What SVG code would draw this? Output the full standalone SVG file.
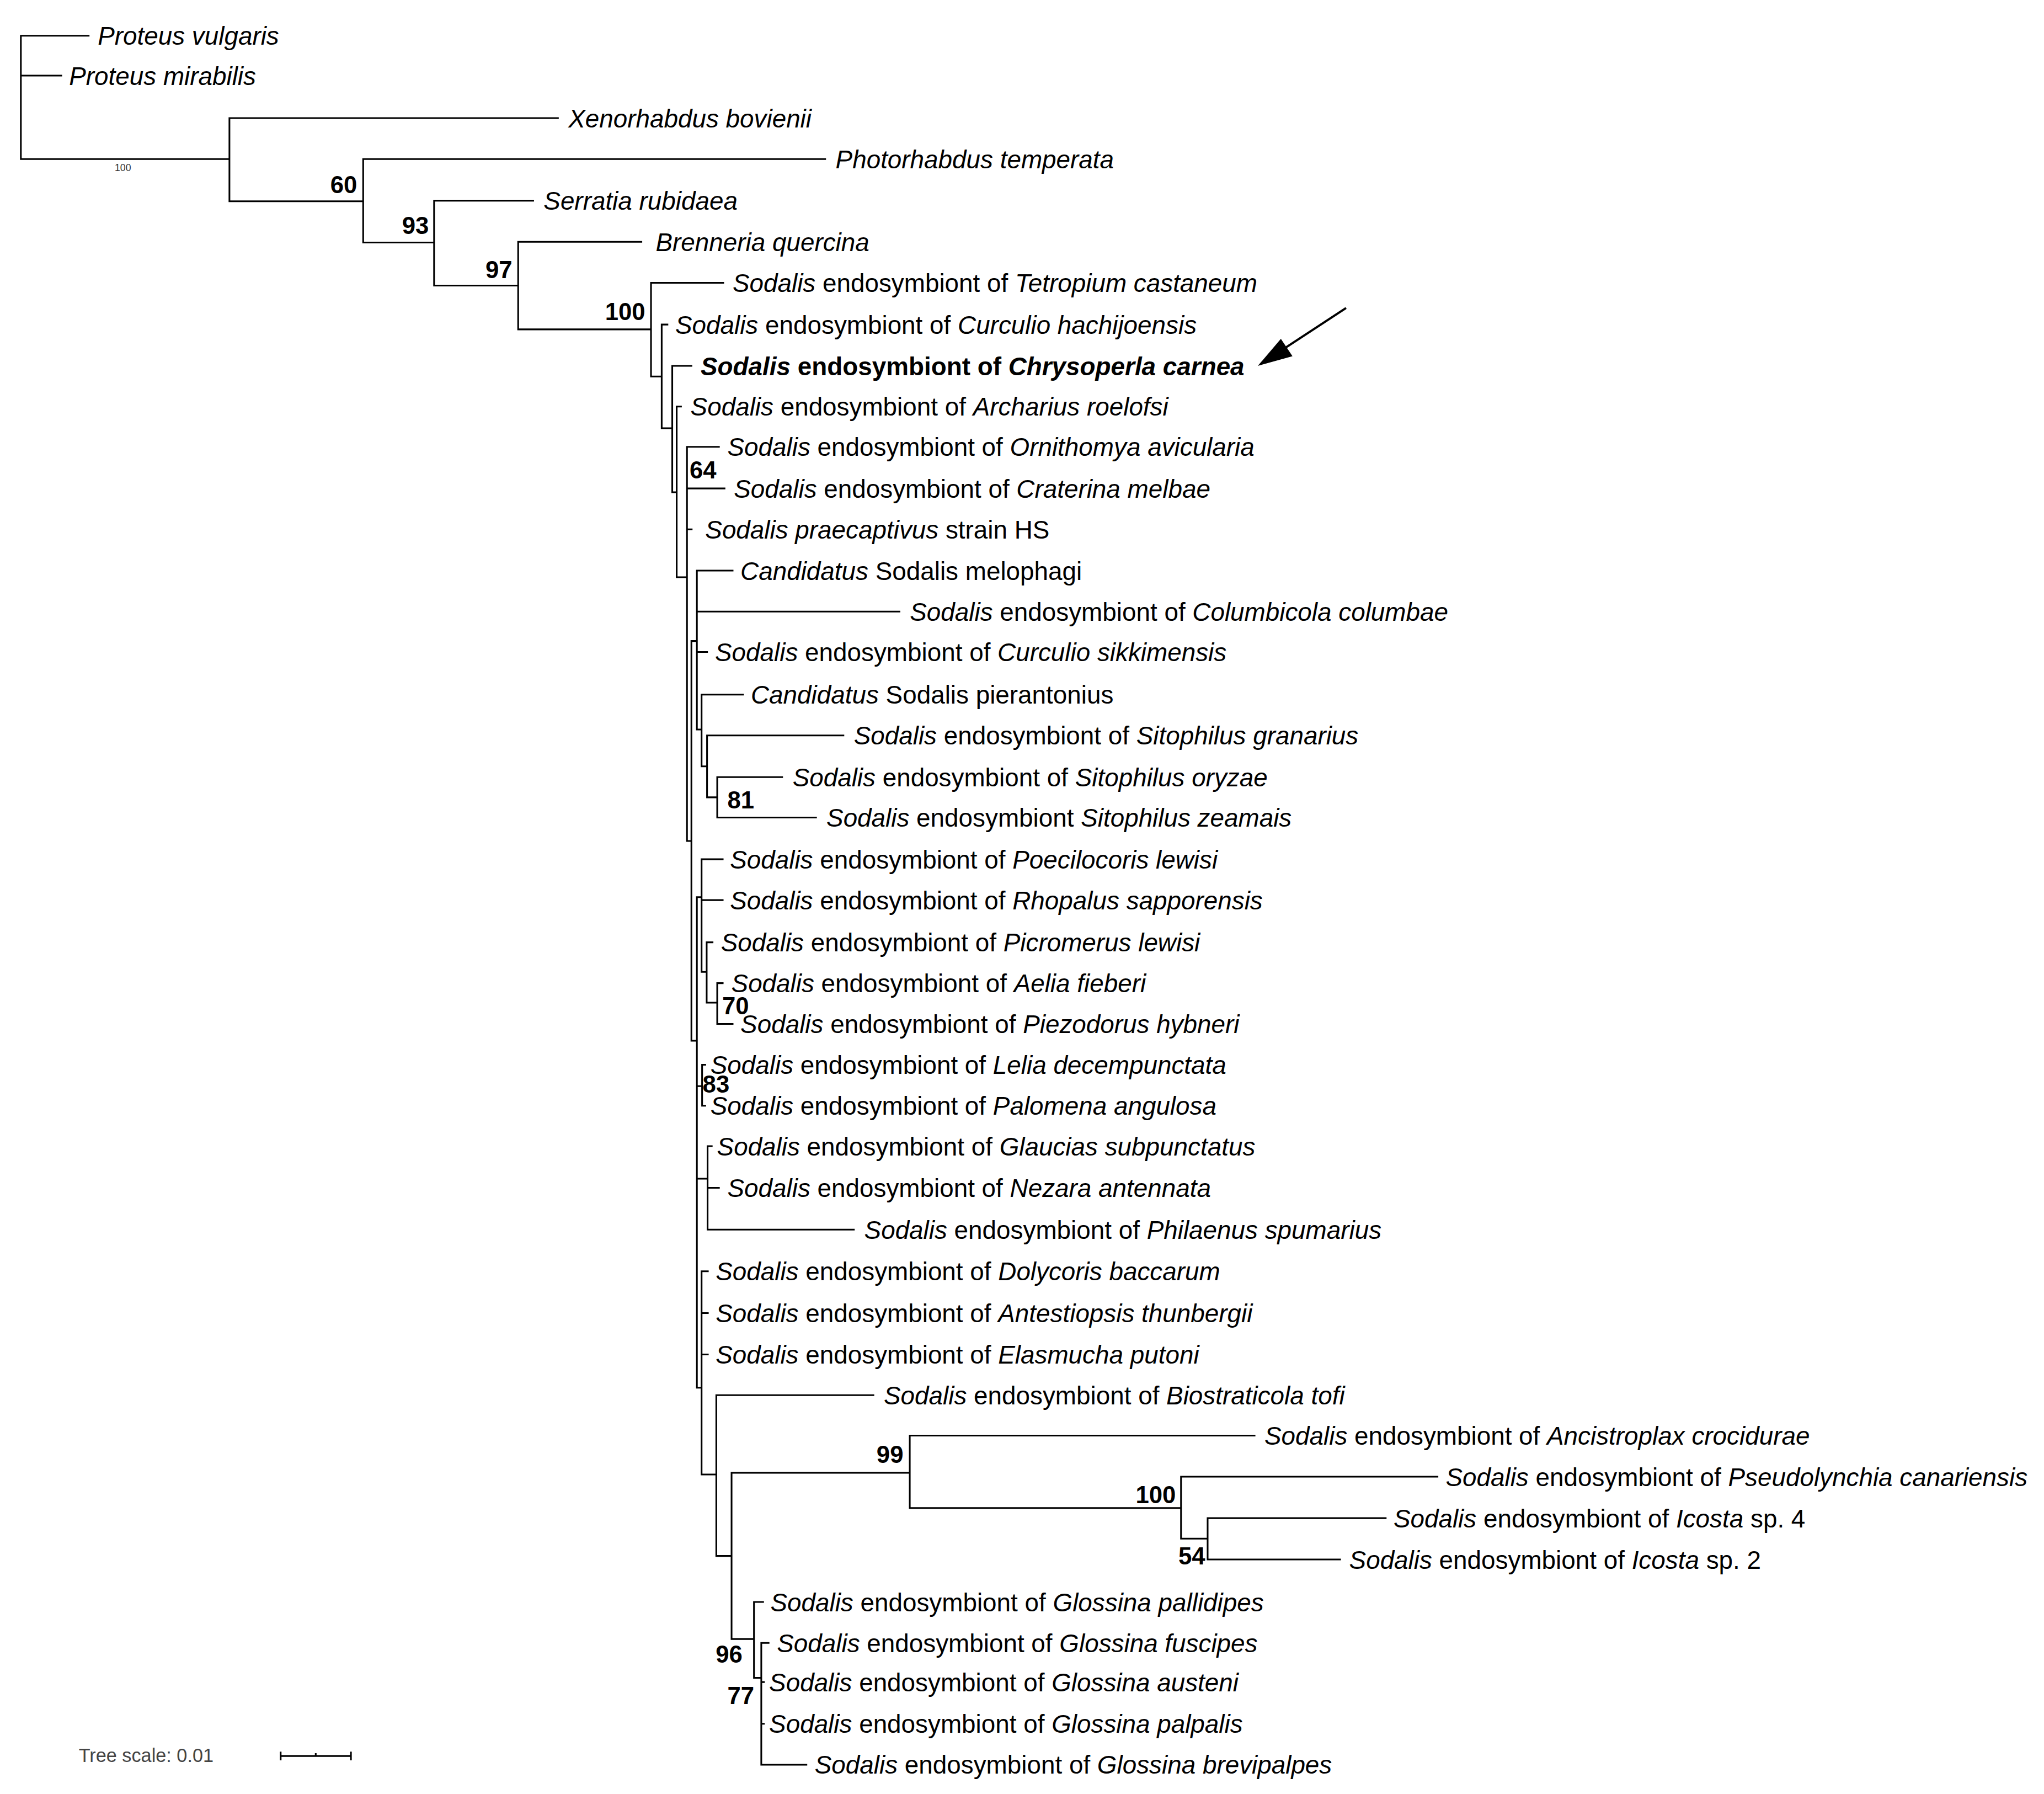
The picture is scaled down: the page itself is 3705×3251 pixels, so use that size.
<svg xmlns="http://www.w3.org/2000/svg" width="3705" height="3251" viewBox="0 0 3705 3251">
<style>
.br{fill:none;stroke:#000;stroke-width:1.3;stroke-linecap:square}
.t{font-family:"Liberation Sans",Arial,sans-serif;font-size:19.4px;fill:#000}
.i{font-style:italic}
.b{font-family:"Liberation Sans",Arial,sans-serif;font-size:18.5px;font-weight:bold;fill:#000}
</style>
<rect width="3705" height="3251" fill="#fff"/>
<g transform="scale(2.36288)">
<g id="connectors">
<path class="br" d="M16,27.4V122M16,27.4H68M16,58H47M16,122H176
M176,90.6V154.4M176,90.6H428M176,154.4H278.6
M278.6,122V186M278.6,122H633M278.6,186H333
M333,153.9V219M333,153.9H409M333,219H397.5
M397.5,185.5V252.6M397.5,185.5H492M397.5,252.6H499.4
M499.4,216.9V288.7M499.4,216.9H554.8M499.4,288.7H507.6
M507.6,248.9V328.4M507.6,248.9H512M507.6,328.4H515.7
M515.7,280.6V377.5M515.7,280.6H530.4M515.7,377.5H519.1
M519.1,311.8V442.7M519.1,311.8H522.4M519.1,442.7H527
M527,342.7V645M527,342.7H551.5M527,374.6H555.8M527,406H530.6M527,645H530.4
M530.4,491.6V798.2M530.4,491.6H534.6M530.4,798.2H534.6
M534.6,437.6V559.5M534.6,437.6H562M534.6,469H690M534.6,500H542.4M534.6,559.5H538.2
M538.2,532.7V587.7M538.2,532.7H570M538.2,587.7H542.4
M542.4,564V611.5M542.4,564H647M542.4,611.5H550.2
M550.2,596V627M550.2,596H600M550.2,627H626
M534.6,688V1064.3M534.6,688H538.2M534.6,833H538.6M534.6,904H542.8M534.6,1064.3H538.2
M538.2,659V745.4M538.2,659H554.4M538.2,690.3H554.4M538.2,745.4H542.1
M542.1,722.7V769M542.1,722.7H546.6M542.1,769H550.2
M550.2,754V785.3M550.2,754H554.4M550.2,785.3H562
M538.6,816.6V848M538.6,816.6H541M538.6,848H541
M542.8,879V943M542.8,879H546M542.8,911H551.5M542.8,943H655
M538.2,975V1130.8M538.2,975H543M538.2,1007H543M538.2,1038.8H543M538.2,1130.8H549.5
M549.5,1070V1193.3M549.5,1070H670M549.5,1193.3H561.2
M561.2,1129.5V1257M561.2,1129.5H697.9M561.2,1257H578.4
M697.9,1101V1156.5M697.9,1101H962.4M697.9,1156.5H906
M906,1132.5V1180M906,1132.5H1102.7M906,1180H926.4
M926.4,1164.3V1196M926.4,1164.3H1063M926.4,1196H1028
M578.4,1228.6V1286.8M578.4,1228.6H585.4M578.4,1286.8H584
M584,1260V1353.4M584,1260H589.6M584,1290H586M584,1322H586M584,1353.4H618.6"/>
<line x1="1032.6" y1="236.2" x2="985" y2="267.4" stroke="#000" stroke-width="1.7"/>
<polygon points="964.9,280.6 991.5,273.2 982.6,259.8" fill="#000"/>
</g>
<g id="tips">
<g id="n1"><text class="t" x="75" y="34.4"><tspan class="i">Proteus vulgaris</tspan></text></g>
<g id="n2"><text class="t" x="53" y="65"><tspan class="i">Proteus mirabilis</tspan></text></g>
<g id="n3"><text class="t" x="436" y="97.6"><tspan class="i">Xenorhabdus bovienii</tspan></text></g>
<g id="n4"><text class="t" x="641" y="129"><tspan class="i">Photorhabdus temperata</tspan></text></g>
<g id="n5"><text class="t" x="417" y="160.9"><tspan class="i">Serratia rubidaea</tspan></text></g>
<g id="n6"><text class="t" x="503" y="192.5"><tspan class="i">Brenneria quercina</tspan></text></g>
<g id="n7"><text class="t" x="562" y="223.9"><tspan class="i">Sodalis</tspan> endosymbiont of <tspan class="i">Tetropium castaneum</tspan></text></g>
<g id="n8"><text class="t" x="518" y="255.9"><tspan class="i">Sodalis</tspan> endosymbiont of <tspan class="i">Curculio hachijoensis</tspan></text></g>
<g id="n9"><text class="t" x="537.5" y="287.6" font-weight="bold"><tspan class="i">Sodalis</tspan> endosymbiont of <tspan class="i">Chrysoperla carnea</tspan></text></g>
<g id="n10"><text class="t" x="529.7" y="318.8"><tspan class="i">Sodalis</tspan> endosymbiont of <tspan class="i">Archarius roelofsi</tspan></text></g>
<g id="n11"><text class="t" x="558" y="349.7"><tspan class="i">Sodalis</tspan> endosymbiont of <tspan class="i">Ornithomya avicularia</tspan></text></g>
<g id="n12"><text class="t" x="563" y="381.6"><tspan class="i">Sodalis</tspan> endosymbiont of <tspan class="i">Craterina melbae</tspan></text></g>
<g id="n13"><text class="t" x="541" y="413"><tspan class="i">Sodalis praecaptivus</tspan> strain HS</text></g>
<g id="n14"><text class="t" x="568" y="444.6"><tspan class="i">Candidatus</tspan> Sodalis melophagi</text></g>
<g id="n15"><text class="t" x="698" y="476"><tspan class="i">Sodalis</tspan> endosymbiont of <tspan class="i">Columbicola columbae</tspan></text></g>
<g id="n16"><text class="t" x="548.5" y="507"><tspan class="i">Sodalis</tspan> endosymbiont of <tspan class="i">Curculio sikkimensis</tspan></text></g>
<g id="n17"><text class="t" x="576" y="539.7"><tspan class="i">Candidatus</tspan> Sodalis pierantonius</text></g>
<g id="n18"><text class="t" x="655" y="571"><tspan class="i">Sodalis</tspan> endosymbiont of <tspan class="i">Sitophilus granarius</tspan></text></g>
<g id="n19"><text class="t" x="608" y="603"><tspan class="i">Sodalis</tspan> endosymbiont of <tspan class="i">Sitophilus oryzae</tspan></text></g>
<g id="n20"><text class="t" x="634" y="634"><tspan class="i">Sodalis</tspan> endosymbiont <tspan class="i">Sitophilus zeamais</tspan></text></g>
<g id="n21"><text class="t" x="560" y="666"><tspan class="i">Sodalis</tspan> endosymbiont of <tspan class="i">Poecilocoris lewisi</tspan></text></g>
<g id="n22"><text class="t" x="560" y="697.3"><tspan class="i">Sodalis</tspan> endosymbiont of <tspan class="i">Rhopalus sapporensis</tspan></text></g>
<g id="n23"><text class="t" x="553" y="729.7"><tspan class="i">Sodalis</tspan> endosymbiont of <tspan class="i">Picromerus lewisi</tspan></text></g>
<g id="n24"><text class="t" x="561" y="761"><tspan class="i">Sodalis</tspan> endosymbiont of <tspan class="i">Aelia fieberi</tspan></text></g>
<g id="n25"><text class="t" x="568" y="792.3"><tspan class="i">Sodalis</tspan> endosymbiont of <tspan class="i">Piezodorus hybneri</tspan></text></g>
<g id="n26"><text class="t" x="545" y="823.6"><tspan class="i">Sodalis</tspan> endosymbiont of <tspan class="i">Lelia decempunctata</tspan></text></g>
<g id="n27"><text class="t" x="545" y="855"><tspan class="i">Sodalis</tspan> endosymbiont of <tspan class="i">Palomena angulosa</tspan></text></g>
<g id="n28"><text class="t" x="550" y="886"><tspan class="i">Sodalis</tspan> endosymbiont of <tspan class="i">Glaucias subpunctatus</tspan></text></g>
<g id="n29"><text class="t" x="558" y="918"><tspan class="i">Sodalis</tspan> endosymbiont of <tspan class="i">Nezara antennata</tspan></text></g>
<g id="n30"><text class="t" x="663" y="950"><tspan class="i">Sodalis</tspan> endosymbiont of <tspan class="i">Philaenus spumarius</tspan></text></g>
<g id="n31"><text class="t" x="549" y="982"><tspan class="i">Sodalis</tspan> endosymbiont of <tspan class="i">Dolycoris baccarum</tspan></text></g>
<g id="n32"><text class="t" x="549" y="1014"><tspan class="i">Sodalis</tspan> endosymbiont of <tspan class="i">Antestiopsis thunbergii</tspan></text></g>
<g id="n33"><text class="t" x="549" y="1045.8"><tspan class="i">Sodalis</tspan> endosymbiont of <tspan class="i">Elasmucha putoni</tspan></text></g>
<g id="n34"><text class="t" x="678" y="1077"><tspan class="i">Sodalis</tspan> endosymbiont of <tspan class="i">Biostraticola tofi</tspan></text></g>
<g id="n35"><text class="t" x="970" y="1108"><tspan class="i">Sodalis</tspan> endosymbiont of <tspan class="i">Ancistroplax crocidurae</tspan></text></g>
<g id="n36"><text class="t" x="1109" y="1139.5"><tspan class="i">Sodalis</tspan> endosymbiont of <tspan class="i">Pseudolynchia canariensis</tspan></text></g>
<g id="n37"><text class="t" x="1069" y="1171.3"><tspan class="i">Sodalis</tspan> endosymbiont of <tspan class="i">Icosta</tspan> sp. 4</text></g>
<g id="n38"><text class="t" x="1035" y="1203"><tspan class="i">Sodalis</tspan> endosymbiont of <tspan class="i">Icosta</tspan> sp. 2</text></g>
<g id="n39"><text class="t" x="591" y="1235.6"><tspan class="i">Sodalis</tspan> endosymbiont of <tspan class="i">Glossina pallidipes</tspan></text></g>
<g id="n40"><text class="t" x="596" y="1267"><tspan class="i">Sodalis</tspan> endosymbiont of <tspan class="i">Glossina fuscipes</tspan></text></g>
<g id="n41"><text class="t" x="590" y="1297"><tspan class="i">Sodalis</tspan> endosymbiont of <tspan class="i">Glossina austeni</tspan></text></g>
<g id="n42"><text class="t" x="590" y="1329"><tspan class="i">Sodalis</tspan> endosymbiont of <tspan class="i">Glossina palpalis</tspan></text></g>
<g id="n43"><text class="t" x="625" y="1360.4"><tspan class="i">Sodalis</tspan> endosymbiont of <tspan class="i">Glossina brevipalpes</tspan></text></g>
</g>
<g id="support">
<text x="88" y="131" font-family="Liberation Sans,Arial,sans-serif" font-size="7.5" fill="#333">100</text>
<text class="b" x="274" y="148" text-anchor="end">60</text>
<text class="b" x="329" y="179.5" text-anchor="end">93</text>
<text class="b" x="393" y="213.5" text-anchor="end">97</text>
<text class="b" x="495" y="245.6" text-anchor="end">100</text>
<text class="b" x="529" y="367">64</text>
<text class="b" x="558" y="620">81</text>
<text class="b" x="554" y="778">70</text>
<text class="b" x="539" y="838">83</text>
<text class="b" x="693" y="1122" text-anchor="end">99</text>
<text class="b" x="902" y="1153" text-anchor="end">100</text>
<text class="b" x="904" y="1200">54</text>
<text class="b" x="549" y="1275">96</text>
<text class="b" x="558" y="1307">77</text>
</g>
<g id="scale">
<text x="60.4" y="1351.5" font-family="Liberation Sans,Arial,sans-serif" font-size="14.5" fill="#444">Tree scale: 0.01</text>
<path d="M215.3,1346.7H269.2M215.3,1343.4V1350M269.2,1343.4V1350M242.2,1344.5V1346.7" fill="none" stroke="#000" stroke-width="1.3"/>
</g>
</g>
</svg>
